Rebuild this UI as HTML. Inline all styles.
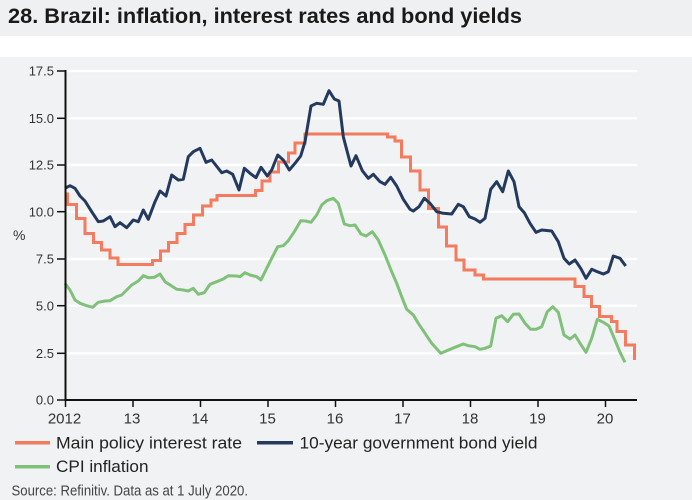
<!DOCTYPE html>
<html>
<head>
<meta charset="utf-8">
<style>
html,body{margin:0;padding:0;background:#f1f2f4;}
svg{display:block;}
text{font-family:"Liberation Sans",sans-serif;}
</style>
</head>
<body>
<svg width="692" height="500" viewBox="0 0 692 500" xmlns="http://www.w3.org/2000/svg">
  <rect x="0" y="0" width="692" height="500" fill="#f1f2f4"/>
  <rect x="0" y="0" width="692" height="36" fill="#eff0f2"/>
  <rect x="0" y="36" width="692" height="21" fill="#ffffff"/>

  <text x="8" y="23" font-size="21" font-weight="bold" fill="#1a1a1a" textLength="514" lengthAdjust="spacingAndGlyphs">28. Brazil: inflation, interest rates and bond yields</text>

  <!-- gridlines -->
  <g stroke="#ffffff" stroke-width="2.2">
    <line x1="66" y1="71" x2="637" y2="71"/>
    <line x1="66" y1="118.3" x2="637" y2="118.3"/>
    <line x1="66" y1="165" x2="637" y2="165"/>
    <line x1="66" y1="211.7" x2="637" y2="211.7"/>
    <line x1="66" y1="259" x2="637" y2="259"/>
    <line x1="66" y1="305.7" x2="637" y2="305.7"/>
    <line x1="66" y1="353.3" x2="637" y2="353.3"/>
  </g>

  <!-- y ticks & labels -->
  <g stroke="#111" stroke-width="1.5">
    <line x1="57" y1="71" x2="66" y2="71"/>
    <line x1="57" y1="118.3" x2="66" y2="118.3"/>
    <line x1="57" y1="165" x2="66" y2="165"/>
    <line x1="57" y1="211.7" x2="66" y2="211.7"/>
    <line x1="57" y1="259" x2="66" y2="259"/>
    <line x1="57" y1="305.7" x2="66" y2="305.7"/>
    <line x1="57" y1="353.3" x2="66" y2="353.3"/>
    <line x1="57" y1="400" x2="66" y2="400"/>
  </g>
  <g font-size="13" fill="#333" text-anchor="end">
    <text x="54" y="75.7">17.5</text>
    <text x="54" y="123">15.0</text>
    <text x="54" y="169.7">12.5</text>
    <text x="54" y="216.4">10.0</text>
    <text x="54" y="263.7">7.5</text>
    <text x="54" y="310.4">5.0</text>
    <text x="54" y="358">2.5</text>
    <text x="54" y="404.7">0.0</text>
  </g>
  <text x="13" y="240" font-size="14" fill="#333">%</text>

  <!-- x ticks & labels -->
  <g stroke="#111" stroke-width="1.5">
    <line x1="65.5" y1="400" x2="65.5" y2="407"/>
    <line x1="133" y1="400" x2="133" y2="407"/>
    <line x1="200.5" y1="400" x2="200.5" y2="407"/>
    <line x1="268" y1="400" x2="268" y2="407"/>
    <line x1="335.5" y1="400" x2="335.5" y2="407"/>
    <line x1="403" y1="400" x2="403" y2="407"/>
    <line x1="470.5" y1="400" x2="470.5" y2="407"/>
    <line x1="538" y1="400" x2="538" y2="407"/>
    <line x1="605.5" y1="400" x2="605.5" y2="407"/>
  </g>
  <g font-size="15" fill="#333" text-anchor="middle">
    <text x="64.5" y="423.5">2012</text>
    <text x="132" y="423.5">13</text>
    <text x="200" y="423.5">14</text>
    <text x="267.5" y="423.5">15</text>
    <text x="335" y="423.5">16</text>
    <text x="402.5" y="423.5">17</text>
    <text x="470" y="423.5">18</text>
    <text x="537.5" y="423.5">19</text>
    <text x="605" y="423.5">20</text>
  </g>

  <!-- series -->
  <g fill="none" stroke-width="3" stroke-linejoin="round" stroke-linecap="butt">
    <polyline stroke="#80c17a" points="65,283.3 70,290 75,300 80,303.3 86.7,305.7 92.7,307.3 98.3,302.3 105,301 110,300.7 116.7,296.7 121.7,295 126.7,290 131.7,285 138.3,281 143.3,275.7 148.3,277.7 154.3,277.3 160,274 165,281.7 171.7,286 176.7,289.3 183.3,290 188.3,291 193.3,288.3 198.3,294.3 204.3,292.7 210,284.3 216.7,281.7 223.3,279 228.3,275.7 236.7,276 240,276.7 245,272.7 250,275 256.7,276.7 261,280 266.7,268.3 271.7,258.3 277.7,246.7 283.3,245.7 288.3,240.7 294.3,231.7 300.7,220.7 305.7,221 311,222.3 316.7,215 321.7,205 326.7,200.7 333.3,198.3 338.3,203.3 344.3,224 350,225.7 355,225 361,234 366,236 372.3,231.7 378.3,240 385,255 391,270 396.7,283.3 401.7,296.7 406.7,309.3 413.3,315 418.3,323.3 425,333.3 431.7,343.3 440.7,353.3 446.7,350.7 455,347.3 463.3,344 468.3,345.7 475,346.7 480,349.3 485,348.3 490.7,346 496,318.3 501.7,315.7 507.7,321.7 513.3,314.3 519,314 525,323.3 530.7,329.3 536,329.3 541.7,326.7 547.3,311.7 552.7,306.7 558.3,312.3 564,335 570,339 575,335 580.7,344.3 586,352.3 591.7,338.3 597.3,319.3 603.3,322.3 609,326 614,337.7 620,352.3 625,362.3"/>
    <path stroke="#f47b5e" stroke-linejoin="miter" d="M65.5,194 H67.5 V204.5 H76.5 V218.5 H85 V233.5 H93.5 V242.5 H101.5 V250 H110 V258 H118 V264.5 H152.5 V260.5 H160.5 V251 H168.5 V242.5 H177 V233.5 H185 V224.5 H193.5 V215 H202.5 V206 H211 V200 H217 V195.5 H255.5 V190.5 H262 V181 H270 V172 H278.5 V162 H288.5 V153 H295 V143 H305 V134 H387.5 V137 H395 V141 H401.5 V157 H410.5 V171 H420 V190 H428.5 V208.5 H438.5 V227 H446.5 V246 H456 V260 H464 V270 H475 V275 H483.5 V279 H575 V286.5 H584 V296.5 H591.5 V306.5 H599.5 V316.5 H611.5 V321.5 H617 V331.5 H625.5 V345 H634.5 V360"/>
    <polyline stroke="#233a5e" points="65,188.3 70,185.7 75,188.3 80,196 85,201 91.7,211.7 98.3,221.7 103.3,221 110,216.7 115,226.7 120,222.7 126.7,227.7 133.3,220 138.3,221.7 143.3,210 148.3,219.3 155,201.7 160,191 166,196 171.7,175 178.3,180 183.3,179.3 188.3,156.7 193.3,151.7 200,148.3 206,162.3 211.7,160 221.7,172.7 226.7,171 232.7,174.3 239,190 244.3,168.3 250,173.3 256,177.7 261,167.3 267.3,176 271.7,170 277.7,155 283.3,160 289.3,170 295,163.3 300.7,156 305,141.7 311,106 316.7,103.3 323.3,104.3 329,90.7 334.3,99 339,101 343.3,136.7 351,166 356,155.7 362.3,170.7 368.3,178.3 373.3,174.3 380,181.7 385,184.3 390.7,177.3 396.7,186 403.3,199.3 410,209.3 413.3,211 419,206.7 424.3,198.3 430,203.3 436.7,211.7 443.3,213.3 451.7,214 458.3,204.3 463.3,206.7 469.3,216.7 475,219 480,222.3 485,218.3 490.7,189.3 496.7,181.7 502.7,191.7 508.3,171 514,181.7 519,206.7 524.3,212.7 530,223.3 536,232.3 541.7,230 551.7,231 558.3,241.7 564,258.3 569.3,264 575,260 580.7,268.3 586,278.3 591.7,269.3 597.3,271.7 603.3,274 608.3,271.7 613.3,256 620,258.3 625.7,266"/>
  </g>

  <!-- axes -->
  <line x1="65.5" y1="70" x2="65.5" y2="401" stroke="#111" stroke-width="2"/>
  <line x1="64.5" y1="400" x2="637" y2="400" stroke="#111" stroke-width="2"/>

  <!-- legend -->
  <line x1="15" y1="442.7" x2="50" y2="442.7" stroke="#f47b5e" stroke-width="3.5"/>
  <text x="56" y="448.5" font-size="16.5" fill="#222" textLength="186" lengthAdjust="spacingAndGlyphs">Main policy interest rate</text>
  <line x1="257" y1="442.7" x2="293" y2="442.7" stroke="#233a5e" stroke-width="3.5"/>
  <text x="299.5" y="448.5" font-size="16.5" fill="#222" textLength="238" lengthAdjust="spacingAndGlyphs">10-year government bond yield</text>
  <line x1="15" y1="466.7" x2="50" y2="466.7" stroke="#80c17a" stroke-width="3.5"/>
  <text x="56" y="472" font-size="16.5" fill="#222" textLength="92.5" lengthAdjust="spacingAndGlyphs">CPI inflation</text>

  <text x="11.5" y="495.5" font-size="14.5" fill="#444" textLength="236.5" lengthAdjust="spacingAndGlyphs">Source: Refinitiv. Data as at 1 July 2020.</text>
</svg>
</body>
</html>
